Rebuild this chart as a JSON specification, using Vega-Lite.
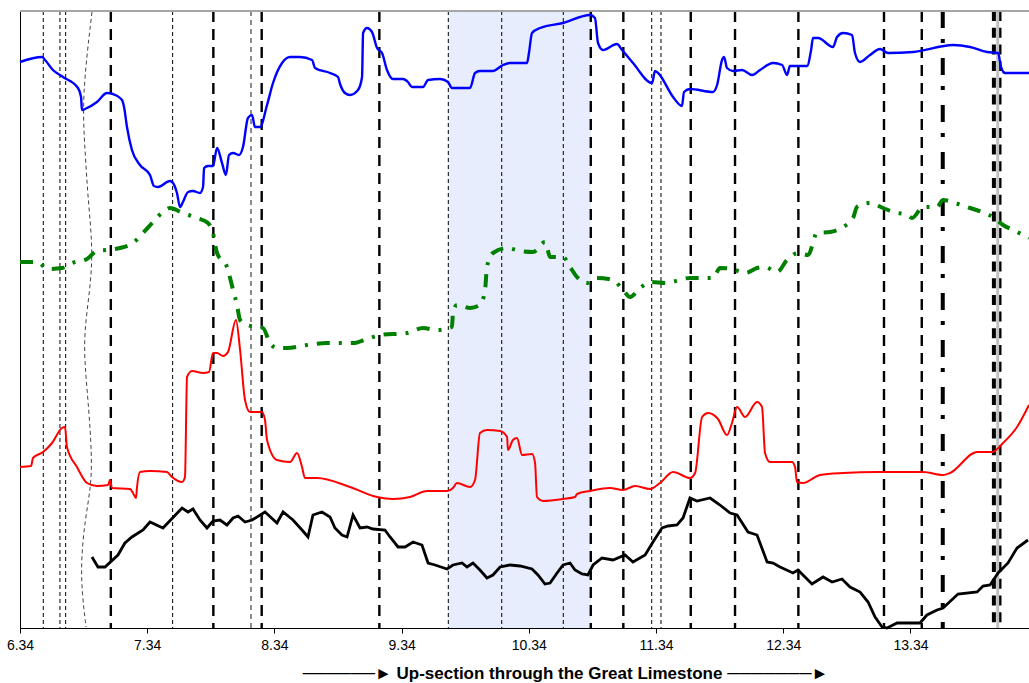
{
  "$schema": "https://vega.github.io/schema/vega-lite/v6.json",
  "width": 1009,
  "height": 617,
  "autosize": {"type": "none"},
  "padding": {"left": 20, "top": 11, "right": 0, "bottom": 55},
  "background": "white",
  "config": {
    "view": {"stroke": null},
    "axisX": {
      "domainColor": "black", "domainWidth": 1, "tickColor": "black", "tickSize": 5, "tickWidth": 1,
      "labelFont": "Liberation Sans", "labelFontSize": 14, "labelColor": "black", "labelPadding": 5,
      "labelOverlap": false, "labelFlush": false, "labelBound": false, "grid": false,
      "titleFont": "Liberation Sans", "titleFontSize": 17, "titleFontWeight": "bold", "titleColor": "black",
      "titleX": 545, "titleY": 50, "titleBaseline": "alphabetic", "titleAlign": "center", "titleAnchor": "start"
    },
    "axisY": {"domainColor": "black", "domainWidth": 1, "ticks": false, "labels": false, "grid": false}
  },
  "datasets": {
    "band": [{"x": 9.707, "x2": 10.827}],
    "thin": [{"x": 6.523}, {"x": 6.654}, {"x": 6.699}, {"x": 7.540}, {"x": 9.707}, {"x": 10.127}, {"x": 10.611}, {"x": 11.306}, {"x": 11.379}],
    "thick": [{"x": 7.054}, {"x": 7.860}, {"x": 8.240}, {"x": 9.165}, {"x": 10.827}, {"x": 11.083}, {"x": 11.613}, {"x": 11.961}, {"x": 12.459}, {"x": 13.132}, {"x": 13.429}],
    "grayDash": [{"x": 8.156}],
    "dashDot": [{"x": 13.594}],
    "double": [{"x": 13.996}, {"x": 14.040}],
    "graySolid": [{"x": 14.026}],
    "curvy": [
      {"k": 1, "x": 6.906, "y": 616}, {"k": 2, "x": 6.827, "y": 531}, {"k": 3, "x": 6.851, "y": 478},
      {"k": 4, "x": 6.875, "y": 428}, {"k": 5, "x": 6.914, "y": 378}, {"k": 6, "x": 6.890, "y": 338},
      {"k": 7, "x": 6.843, "y": 295}, {"k": 8, "x": 6.851, "y": 261}, {"k": 9, "x": 6.875, "y": 228},
      {"k": 10, "x": 6.906, "y": 173}, {"k": 11, "x": 6.898, "y": 141}, {"k": 12, "x": 6.851, "y": 108},
      {"k": 13, "x": 6.820, "y": 68}, {"k": 14, "x": 6.827, "y": 35}, {"k": 15, "x": 6.859, "y": 1}
    ],
    "blue": [
      {"x": 6.340, "y": 566}, {"x": 6.513, "y": 571}, {"x": 6.537, "y": 568}, {"x": 6.599, "y": 558},
      {"x": 6.678, "y": 551}, {"x": 6.796, "y": 540}, {"x": 6.820, "y": 531}, {"x": 6.827, "y": 518},
      {"x": 6.851, "y": 519}, {"x": 6.945, "y": 526}, {"x": 7.024, "y": 535}, {"x": 7.071, "y": 534},
      {"x": 7.142, "y": 528}, {"x": 7.158, "y": 521}, {"x": 7.181, "y": 501}, {"x": 7.220, "y": 478},
      {"x": 7.283, "y": 463}, {"x": 7.362, "y": 453}, {"x": 7.393, "y": 442}, {"x": 7.425, "y": 441},
      {"x": 7.519, "y": 447}, {"x": 7.543, "y": 445}, {"x": 7.574, "y": 435}, {"x": 7.598, "y": 421},
      {"x": 7.621, "y": 426}, {"x": 7.661, "y": 436}, {"x": 7.700, "y": 437}, {"x": 7.755, "y": 435},
      {"x": 7.779, "y": 441}, {"x": 7.787, "y": 460}, {"x": 7.818, "y": 462}, {"x": 7.857, "y": 462},
      {"x": 7.889, "y": 480}, {"x": 7.928, "y": 465}, {"x": 7.959, "y": 453}, {"x": 7.983, "y": 473},
      {"x": 8.015, "y": 475}, {"x": 8.062, "y": 473}, {"x": 8.093, "y": 481}, {"x": 8.132, "y": 510},
      {"x": 8.164, "y": 513}, {"x": 8.187, "y": 501}, {"x": 8.227, "y": 501}, {"x": 8.282, "y": 523},
      {"x": 8.329, "y": 545}, {"x": 8.400, "y": 565}, {"x": 8.463, "y": 571}, {"x": 8.541, "y": 571},
      {"x": 8.636, "y": 568}, {"x": 8.659, "y": 560}, {"x": 8.777, "y": 555}, {"x": 8.840, "y": 551},
      {"x": 8.856, "y": 544}, {"x": 8.895, "y": 535}, {"x": 8.934, "y": 533}, {"x": 8.997, "y": 538},
      {"x": 9.029, "y": 551}, {"x": 9.037, "y": 595}, {"x": 9.068, "y": 600}, {"x": 9.107, "y": 596},
      {"x": 9.147, "y": 580}, {"x": 9.186, "y": 575}, {"x": 9.225, "y": 558}, {"x": 9.272, "y": 549},
      {"x": 9.351, "y": 549}, {"x": 9.390, "y": 546}, {"x": 9.422, "y": 541}, {"x": 9.508, "y": 541},
      {"x": 9.548, "y": 548}, {"x": 9.642, "y": 549}, {"x": 9.705, "y": 546}, {"x": 9.736, "y": 540},
      {"x": 9.878, "y": 540}, {"x": 9.917, "y": 555}, {"x": 9.956, "y": 557}, {"x": 10.058, "y": 557},
      {"x": 10.137, "y": 563}, {"x": 10.192, "y": 565}, {"x": 10.326, "y": 565}, {"x": 10.341, "y": 575},
      {"x": 10.365, "y": 595}, {"x": 10.428, "y": 600}, {"x": 10.609, "y": 605}, {"x": 10.821, "y": 613},
      {"x": 10.860, "y": 610}, {"x": 10.884, "y": 585}, {"x": 10.923, "y": 578}, {"x": 11.033, "y": 584},
      {"x": 11.073, "y": 578}, {"x": 11.159, "y": 565}, {"x": 11.309, "y": 545}, {"x": 11.332, "y": 557},
      {"x": 11.356, "y": 555}, {"x": 11.474, "y": 531}, {"x": 11.544, "y": 522}, {"x": 11.560, "y": 536},
      {"x": 11.607, "y": 539}, {"x": 11.788, "y": 536}, {"x": 11.820, "y": 543}, {"x": 11.859, "y": 568},
      {"x": 11.875, "y": 571}, {"x": 11.898, "y": 560}, {"x": 11.945, "y": 557}, {"x": 12.016, "y": 558},
      {"x": 12.095, "y": 553}, {"x": 12.158, "y": 558}, {"x": 12.260, "y": 565}, {"x": 12.331, "y": 563},
      {"x": 12.370, "y": 553}, {"x": 12.393, "y": 562}, {"x": 12.527, "y": 562}, {"x": 12.559, "y": 578},
      {"x": 12.574, "y": 590}, {"x": 12.614, "y": 590}, {"x": 12.731, "y": 581}, {"x": 12.763, "y": 591},
      {"x": 12.810, "y": 595}, {"x": 12.881, "y": 593}, {"x": 12.904, "y": 575}, {"x": 12.944, "y": 566},
      {"x": 13.022, "y": 573}, {"x": 13.101, "y": 579}, {"x": 13.164, "y": 575}, {"x": 13.360, "y": 576},
      {"x": 13.675, "y": 583}, {"x": 13.809, "y": 581}, {"x": 13.942, "y": 576}, {"x": 14.029, "y": 575},
      {"x": 14.052, "y": 561}, {"x": 14.084, "y": 555}, {"x": 14.272, "y": 555}
    ],
    "green": [
      {"x": 6.340, "y": 366}, {"x": 6.474, "y": 366}, {"x": 6.560, "y": 359}, {"x": 6.670, "y": 360},
      {"x": 6.749, "y": 365}, {"x": 6.867, "y": 369}, {"x": 6.945, "y": 377}, {"x": 7.024, "y": 378},
      {"x": 7.126, "y": 380}, {"x": 7.228, "y": 385}, {"x": 7.307, "y": 395}, {"x": 7.386, "y": 406},
      {"x": 7.464, "y": 416}, {"x": 7.519, "y": 420}, {"x": 7.621, "y": 415}, {"x": 7.732, "y": 410},
      {"x": 7.818, "y": 405}, {"x": 7.857, "y": 395}, {"x": 7.889, "y": 375}, {"x": 7.967, "y": 361},
      {"x": 8.015, "y": 338}, {"x": 8.046, "y": 323}, {"x": 8.070, "y": 308}, {"x": 8.125, "y": 303},
      {"x": 8.250, "y": 300}, {"x": 8.305, "y": 285}, {"x": 8.360, "y": 280}, {"x": 8.439, "y": 280},
      {"x": 8.596, "y": 283}, {"x": 8.753, "y": 285}, {"x": 8.958, "y": 285}, {"x": 9.068, "y": 289},
      {"x": 9.170, "y": 293}, {"x": 9.382, "y": 295}, {"x": 9.508, "y": 300}, {"x": 9.618, "y": 298},
      {"x": 9.736, "y": 301}, {"x": 9.744, "y": 316}, {"x": 9.775, "y": 323}, {"x": 9.878, "y": 320},
      {"x": 9.956, "y": 323}, {"x": 9.996, "y": 338}, {"x": 10.011, "y": 361}, {"x": 10.058, "y": 375},
      {"x": 10.169, "y": 380}, {"x": 10.271, "y": 377}, {"x": 10.373, "y": 376}, {"x": 10.467, "y": 386},
      {"x": 10.483, "y": 381}, {"x": 10.507, "y": 371}, {"x": 10.609, "y": 371}, {"x": 10.664, "y": 361},
      {"x": 10.719, "y": 351}, {"x": 10.798, "y": 345}, {"x": 10.876, "y": 350}, {"x": 11.002, "y": 348},
      {"x": 11.080, "y": 338}, {"x": 11.136, "y": 331}, {"x": 11.214, "y": 340}, {"x": 11.309, "y": 346},
      {"x": 11.411, "y": 345}, {"x": 11.607, "y": 350}, {"x": 11.788, "y": 350}, {"x": 11.843, "y": 360},
      {"x": 11.937, "y": 359}, {"x": 12.040, "y": 355}, {"x": 12.134, "y": 360}, {"x": 12.197, "y": 361},
      {"x": 12.291, "y": 356}, {"x": 12.370, "y": 368}, {"x": 12.456, "y": 375}, {"x": 12.535, "y": 373},
      {"x": 12.606, "y": 395}, {"x": 12.708, "y": 396}, {"x": 12.810, "y": 401}, {"x": 12.889, "y": 410},
      {"x": 12.920, "y": 421}, {"x": 13.022, "y": 425}, {"x": 13.125, "y": 420}, {"x": 13.203, "y": 416},
      {"x": 13.313, "y": 413}, {"x": 13.353, "y": 410}, {"x": 13.439, "y": 421}, {"x": 13.549, "y": 421},
      {"x": 13.596, "y": 428}, {"x": 13.691, "y": 425}, {"x": 13.809, "y": 420}, {"x": 13.903, "y": 416},
      {"x": 13.989, "y": 411}, {"x": 14.068, "y": 403}, {"x": 14.147, "y": 398}, {"x": 14.272, "y": 390}
    ],
    "red": [
      {"x": 6.340, "y": 161}, {"x": 6.427, "y": 162}, {"x": 6.442, "y": 170}, {"x": 6.521, "y": 176},
      {"x": 6.592, "y": 185}, {"x": 6.670, "y": 200}, {"x": 6.694, "y": 201}, {"x": 6.709, "y": 181},
      {"x": 6.788, "y": 161}, {"x": 6.867, "y": 145}, {"x": 6.945, "y": 142}, {"x": 7.032, "y": 143},
      {"x": 7.048, "y": 148}, {"x": 7.063, "y": 140}, {"x": 7.205, "y": 139}, {"x": 7.228, "y": 135},
      {"x": 7.252, "y": 130}, {"x": 7.260, "y": 141}, {"x": 7.283, "y": 156}, {"x": 7.362, "y": 157},
      {"x": 7.496, "y": 156}, {"x": 7.535, "y": 151}, {"x": 7.614, "y": 146}, {"x": 7.637, "y": 151},
      {"x": 7.653, "y": 251}, {"x": 7.692, "y": 257}, {"x": 7.779, "y": 255}, {"x": 7.826, "y": 256},
      {"x": 7.857, "y": 275}, {"x": 7.889, "y": 275}, {"x": 7.936, "y": 272}, {"x": 7.975, "y": 276},
      {"x": 8.038, "y": 308}, {"x": 8.070, "y": 278}, {"x": 8.109, "y": 228}, {"x": 8.148, "y": 216},
      {"x": 8.242, "y": 216}, {"x": 8.266, "y": 208}, {"x": 8.282, "y": 188}, {"x": 8.360, "y": 168},
      {"x": 8.463, "y": 166}, {"x": 8.518, "y": 175}, {"x": 8.557, "y": 161}, {"x": 8.580, "y": 150},
      {"x": 8.675, "y": 150}, {"x": 8.934, "y": 141}, {"x": 9.147, "y": 131}, {"x": 9.272, "y": 129},
      {"x": 9.406, "y": 131}, {"x": 9.540, "y": 137}, {"x": 9.697, "y": 137}, {"x": 9.744, "y": 140},
      {"x": 9.775, "y": 145}, {"x": 9.878, "y": 141}, {"x": 9.917, "y": 148}, {"x": 9.956, "y": 195},
      {"x": 10.011, "y": 198}, {"x": 10.114, "y": 197}, {"x": 10.169, "y": 191}, {"x": 10.176, "y": 178},
      {"x": 10.215, "y": 188}, {"x": 10.247, "y": 190}, {"x": 10.287, "y": 173}, {"x": 10.365, "y": 174},
      {"x": 10.389, "y": 165}, {"x": 10.404, "y": 131}, {"x": 10.452, "y": 127}, {"x": 10.609, "y": 129},
      {"x": 10.703, "y": 131}, {"x": 10.719, "y": 134}, {"x": 10.821, "y": 137}, {"x": 10.978, "y": 140},
      {"x": 11.080, "y": 138}, {"x": 11.175, "y": 142}, {"x": 11.293, "y": 139}, {"x": 11.371, "y": 145},
      {"x": 11.474, "y": 156}, {"x": 11.607, "y": 150}, {"x": 11.647, "y": 155}, {"x": 11.702, "y": 211},
      {"x": 11.749, "y": 215}, {"x": 11.827, "y": 209}, {"x": 11.898, "y": 193}, {"x": 11.937, "y": 205},
      {"x": 11.977, "y": 221}, {"x": 12.040, "y": 211}, {"x": 12.134, "y": 226}, {"x": 12.173, "y": 221},
      {"x": 12.197, "y": 175}, {"x": 12.236, "y": 166}, {"x": 12.409, "y": 166}, {"x": 12.433, "y": 161},
      {"x": 12.448, "y": 146}, {"x": 12.496, "y": 145}, {"x": 12.629, "y": 153}, {"x": 12.810, "y": 155},
      {"x": 13.077, "y": 156}, {"x": 13.439, "y": 156}, {"x": 13.596, "y": 153}, {"x": 13.651, "y": 155},
      {"x": 13.864, "y": 176}, {"x": 13.982, "y": 176}, {"x": 14.068, "y": 185}, {"x": 14.178, "y": 201},
      {"x": 14.272, "y": 223}
    ],
    "black": [
      {"x": 6.906, "y": 71}, {"x": 6.953, "y": 61}, {"x": 7.008, "y": 61}, {"x": 7.110, "y": 73},
      {"x": 7.165, "y": 85}, {"x": 7.220, "y": 91}, {"x": 7.307, "y": 98}, {"x": 7.362, "y": 106},
      {"x": 7.464, "y": 100}, {"x": 7.614, "y": 120}, {"x": 7.661, "y": 116}, {"x": 7.700, "y": 119},
      {"x": 7.755, "y": 108}, {"x": 7.810, "y": 100}, {"x": 7.857, "y": 107}, {"x": 7.912, "y": 108},
      {"x": 7.967, "y": 103}, {"x": 8.015, "y": 110}, {"x": 8.054, "y": 112}, {"x": 8.109, "y": 106},
      {"x": 8.164, "y": 108}, {"x": 8.266, "y": 116}, {"x": 8.360, "y": 105}, {"x": 8.408, "y": 116},
      {"x": 8.486, "y": 108}, {"x": 8.557, "y": 98}, {"x": 8.604, "y": 91}, {"x": 8.643, "y": 113},
      {"x": 8.714, "y": 116}, {"x": 8.777, "y": 111}, {"x": 8.816, "y": 100}, {"x": 8.871, "y": 93},
      {"x": 8.911, "y": 91}, {"x": 8.958, "y": 113}, {"x": 9.013, "y": 100}, {"x": 9.068, "y": 101},
      {"x": 9.115, "y": 99}, {"x": 9.209, "y": 98}, {"x": 9.249, "y": 91}, {"x": 9.312, "y": 81},
      {"x": 9.367, "y": 81}, {"x": 9.430, "y": 86}, {"x": 9.500, "y": 83}, {"x": 9.548, "y": 65},
      {"x": 9.603, "y": 63}, {"x": 9.697, "y": 59}, {"x": 9.744, "y": 63}, {"x": 9.815, "y": 65},
      {"x": 9.854, "y": 61}, {"x": 9.901, "y": 65}, {"x": 9.956, "y": 58}, {"x": 10.011, "y": 50},
      {"x": 10.058, "y": 53}, {"x": 10.114, "y": 61}, {"x": 10.192, "y": 63}, {"x": 10.271, "y": 62},
      {"x": 10.365, "y": 59}, {"x": 10.412, "y": 53}, {"x": 10.467, "y": 44}, {"x": 10.507, "y": 45},
      {"x": 10.562, "y": 55}, {"x": 10.609, "y": 63}, {"x": 10.664, "y": 65}, {"x": 10.703, "y": 58},
      {"x": 10.758, "y": 54}, {"x": 10.805, "y": 53}, {"x": 10.845, "y": 63}, {"x": 10.915, "y": 70},
      {"x": 11.002, "y": 68}, {"x": 11.096, "y": 73}, {"x": 11.159, "y": 66}, {"x": 11.254, "y": 73},
      {"x": 11.316, "y": 86}, {"x": 11.387, "y": 100}, {"x": 11.434, "y": 102}, {"x": 11.505, "y": 103},
      {"x": 11.552, "y": 110}, {"x": 11.607, "y": 130}, {"x": 11.662, "y": 127}, {"x": 11.765, "y": 130},
      {"x": 11.843, "y": 123}, {"x": 11.922, "y": 115}, {"x": 11.977, "y": 113}, {"x": 12.063, "y": 96},
      {"x": 12.134, "y": 93}, {"x": 12.213, "y": 66}, {"x": 12.260, "y": 65}, {"x": 12.315, "y": 61},
      {"x": 12.417, "y": 55}, {"x": 12.456, "y": 58}, {"x": 12.511, "y": 51}, {"x": 12.566, "y": 44},
      {"x": 12.653, "y": 51}, {"x": 12.724, "y": 46}, {"x": 12.802, "y": 49}, {"x": 12.865, "y": 41},
      {"x": 12.944, "y": 36}, {"x": 13.007, "y": 26}, {"x": 13.062, "y": 11}, {"x": 13.117, "y": 1},
      {"x": 13.156, "y": 0}, {"x": 13.235, "y": 5}, {"x": 13.415, "y": 5}, {"x": 13.470, "y": 13},
      {"x": 13.549, "y": 18}, {"x": 13.596, "y": 20}, {"x": 13.714, "y": 34}, {"x": 13.864, "y": 36},
      {"x": 13.911, "y": 42}, {"x": 13.966, "y": 43}, {"x": 14.029, "y": 55}, {"x": 14.107, "y": 65},
      {"x": 14.178, "y": 80}, {"x": 14.264, "y": 88}
    ]
  },
  "layer": [
    {
      "data": {"name": "band"},
      "mark": {"type": "rect", "color": "#e7edfc"},
      "encoding": {
        "x": {"field": "x", "type": "quantitative", "scale": {"domain": [6.34, 14.272], "nice": false, "zero": false},
              "axis": {"values": [6.34, 7.34, 8.34, 9.34, 10.34, 11.34, 12.34, 13.34], "format": ".2f",
                       "title": "──────► Up-section through the Great Limestone ───────►"}},
        "x2": {"field": "x2"}
      }
    },
    {
      "data": {"name": "thin"},
      "mark": {"type": "rule", "color": "black", "strokeWidth": 1, "strokeDash": [4, 3]},
      "encoding": {"x": {"field": "x", "type": "quantitative"}}
    },
    {
      "data": {"name": "grayDash"},
      "mark": {"type": "rule", "color": "#666666", "strokeWidth": 1.5, "strokeDash": [5, 4]},
      "encoding": {"x": {"field": "x", "type": "quantitative"}}
    },
    {
      "data": {"name": "curvy"},
      "mark": {"type": "line", "color": "#444444", "strokeWidth": 1, "strokeDash": [4, 3], "interpolate": "basis"},
      "encoding": {
        "x": {"field": "x", "type": "quantitative"},
        "y": {"field": "y", "type": "quantitative", "scale": {"domain": [0, 617], "nice": false, "zero": false}, "axis": {"title": null}},
        "order": {"field": "k", "type": "quantitative"}
      }
    },
    {
      "data": {"name": "thick"},
      "mark": {"type": "rule", "color": "black", "strokeWidth": 2.4, "strokeDash": [11, 7]},
      "encoding": {"x": {"field": "x", "type": "quantitative"}}
    },
    {
      "data": {"name": "dashDot"},
      "mark": {"type": "rule", "color": "black", "strokeWidth": 4, "strokeDash": [17, 11, 4, 15]},
      "encoding": {"x": {"field": "x", "type": "quantitative"}}
    },
    {
      "data": {"name": "double"},
      "mark": {"type": "rule", "color": "black", "strokeWidth": 4, "strokeDash": [10, 6.7]},
      "encoding": {"x": {"field": "x", "type": "quantitative"}}
    },
    {
      "data": {"name": "graySolid"},
      "mark": {"type": "rule", "color": "#c0c0c0", "strokeWidth": 3},
      "encoding": {"x": {"field": "x", "type": "quantitative"}}
    },
    {
      "data": {"name": "band"},
      "mark": {"type": "rule", "color": "#a6a6a6", "strokeWidth": 2},
      "encoding": {"y": {"datum": 617, "type": "quantitative"}}
    },
    {
      "data": {"name": "green"},
      "mark": {"type": "line", "color": "#008000", "strokeWidth": 4, "strokeDash": [13, 9, 3, 9], "interpolate": "monotone"},
      "encoding": {
        "x": {"field": "x", "type": "quantitative"},
        "y": {"field": "y", "type": "quantitative", "axis": {"title": null}}
      }
    },
    {
      "data": {"name": "red"},
      "mark": {"type": "line", "color": "#ff0000", "strokeWidth": 2, "interpolate": "monotone"},
      "encoding": {
        "x": {"field": "x", "type": "quantitative"},
        "y": {"field": "y", "type": "quantitative", "axis": {"title": null}}
      }
    },
    {
      "data": {"name": "black"},
      "mark": {"type": "line", "color": "#000000", "strokeWidth": 2.8, "interpolate": "linear"},
      "encoding": {
        "x": {"field": "x", "type": "quantitative"},
        "y": {"field": "y", "type": "quantitative", "axis": {"title": null}}
      }
    },
    {
      "data": {"name": "blue"},
      "mark": {"type": "line", "color": "#0000ff", "strokeWidth": 2.4, "interpolate": "monotone"},
      "encoding": {
        "x": {"field": "x", "type": "quantitative"},
        "y": {"field": "y", "type": "quantitative", "axis": {"title": null}}
      }
    }
  ]
}
